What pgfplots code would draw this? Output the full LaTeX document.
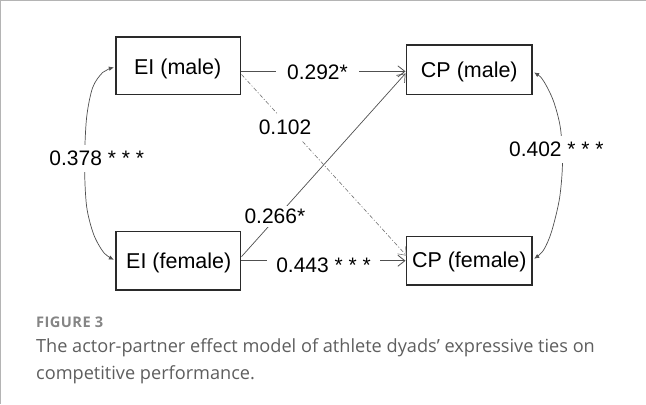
\documentclass[border=0pt]{standalone}
\usepackage{fontspec}
\setmainfont{Liberation Sans}
\newfontfamily\capfont[Ligatures=NoCommon]{Open Sans}
\newfontfamily\figfont[LetterSpace=3]{Open Sans}
\usepackage{pgfplots}
\pgfplotsset{compat=1.18}
\usetikzlibrary{arrows.meta}
\definecolor{boxc}{HTML}{2A2A2A}
\definecolor{arrc}{HTML}{505050}
\definecolor{framec}{HTML}{B4B4B4}
\definecolor{capc}{HTML}{5E5E5E}
\definecolor{figc}{HTML}{858585}
\begin{document}
\begin{tikzpicture}
\begin{axis}[width=646bp,height=407bp,scale only axis,
  xmin=0,xmax=646,ymin=0,ymax=407,y dir=reverse,
  axis lines=none,ticks=none,clip=false]
% frame
\addplot[framec, line width=1pt] coordinates {(9,407) (9,9) (646,9)};
% boxes
\addplot[boxc, line width=1.2pt] coordinates {(123,45) (246,45) (246,102) (123,102)} -- cycle;
\addplot[boxc, line width=1.2pt] coordinates {(410,53) (534,53) (534,102) (410,102)} -- cycle;
\addplot[boxc, line width=1.2pt] coordinates {(123,237) (246,237) (246,295) (123,295)} -- cycle;
\addplot[boxc, line width=1.2pt] coordinates {(410,242) (534,242) (534,290) (410,290)} -- cycle;
% paths
\addplot[arrc, line width=0.8pt, -{Straight Barb[length=7pt,width=11pt]}] coordinates {(247,79) (409,79)};
\addplot[arrc, line width=0.8pt, -{Straight Barb[length=7pt,width=11pt]}] coordinates {(247,266) (409,266)};
\addplot[arrc, line width=0.7pt, -{Straight Barb[length=7pt,width=11pt]}] coordinates {(247,262) (409,81)};
\addplot[arrc!80, line width=0.6pt, dash pattern=on 4pt off 2pt on 1pt off 2pt, -{Straight Barb[length=7pt,width=11pt]}] coordinates {(247,82) (410,261)};
% covariances
\addplot[arrc, line width=0.7pt, smooth, {Latex[length=5pt,width=4.5pt]}-{Latex[length=5pt,width=4.5pt]}]
  coordinates {(121,75) (110,80) (100,95) (94,125) (92,170) (94,212) (101,240) (111,258) (121,265)};
\addplot[arrc, line width=0.7pt, smooth, {Latex[length=5pt,width=4.5pt]}-{Latex[length=5pt,width=4.5pt]}]
  coordinates {(536,80) (545,88) (555,108) (562,135) (564,170) (561,205) (553,238) (545,256) (536,264)};
% box labels
\node[font=\fontsize{21.3}{24}\selectfont] at (axis cs:184,77) {EI (male)};
\node[font=\fontsize{21.3}{24}\selectfont] at (axis cs:472,80) {CP (male)};
\node[font=\fontsize{21.3}{24}\selectfont] at (axis cs:185,268) {EI (female)};
\node[font=\fontsize{21.3}{24}\selectfont] at (axis cs:472,267) {CP (female)};
% coefficient labels
\node[fill=white, inner xsep=11pt, inner ysep=2pt, font=\fontsize{20.8}{24}\selectfont] at (axis cs:322,80) {0.292*};
\node[fill=white, inner xsep=4pt, inner ysep=6pt, font=\fontsize{20.8}{24}\selectfont] at (axis cs:290,134) {0.102};
\node[fill=white, inner xsep=3pt, inner ysep=3pt, font=\fontsize{20.8}{24}\selectfont] at (axis cs:280,222) {0.266*};
\node[fill=white, inner xsep=9pt, inner ysep=2pt, font=\fontsize{20.8}{24}\selectfont] at (axis cs:328,270) {0.443 * * *};
\node[fill=white, inner xsep=2pt, inner ysep=6pt, font=\fontsize{20.8}{24}\selectfont] at (axis cs:104,165) {0.378 * * *};
\node[fill=white, inner xsep=2pt, inner ysep=6pt, font=\fontsize{20.8}{24}\selectfont] at (axis cs:558,156) {0.402 * * *};
% caption
\node[anchor=base west, inner sep=0pt, text=figc, font=\figfont\bfseries\fontsize{14.5}{16}\selectfont] at (axis cs:44,332) {FIGURE 3};
\node[anchor=base west, inner sep=0pt, text=capc, font=\capfont\fontsize{18}{22}\selectfont] at (axis cs:44,357) {The actor-partner effect model of athlete dyads’ expressive ties on};
\node[anchor=base west, inner sep=0pt, text=capc, font=\capfont\fontsize{18}{22}\selectfont] at (axis cs:44,383) {competitive performance.};
\end{axis}
\end{tikzpicture}
\end{document}
